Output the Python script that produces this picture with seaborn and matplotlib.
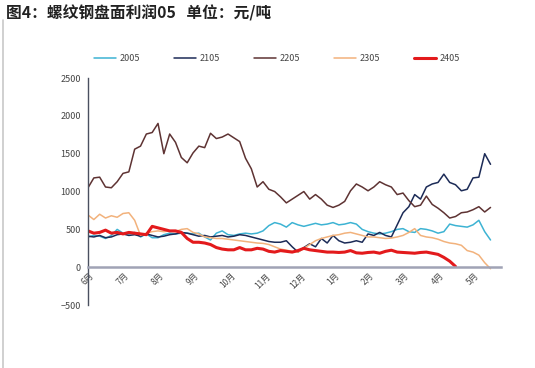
import numpy as np
import pandas as pd
import matplotlib
matplotlib.use("Agg")
import matplotlib.pyplot as plt
import seaborn as sns

# 月份刻度（6月 -> 次年5月）
months = ['6月', '7月', '8月', '9月', '10月', '11月', '12月', '1月', '2月', '3月', '4月', '5月']
step = 1 / 6  # 每个点约 1/6 个月

# 各合约盘面利润（元/吨）
p2005 = [400, 420, 410, 380, 420, 500, 450, 440, 460, 400, 440, 390, 390, 430, 450, 440, 450, 450,
         440, 450, 400, 360, 450, 480, 430, 420, 440, 450, 440, 450, 480, 550, 590, 570, 530, 590,
         560, 540, 560, 580, 560, 570, 590, 560, 570, 590, 570, 500, 470, 450, 440, 450, 470, 500,
         510, 470, 460, 510, 500, 480, 450, 470, 570, 550, 540, 530, 560, 620, 470, 360]
p2105 = [410, 400, 420, 390, 400, 430, 440, 420, 430, 410, 440, 420, 400, 410, 430, 440, 460, 450,
         430, 410, 420, 400, 410, 420, 400, 410, 430, 420, 400, 380, 360, 340, 330, 330, 350, 270,
         200, 260, 310, 270, 380, 320, 420, 350, 320, 330, 350, 330, 440, 420, 460, 420, 400, 560,
         720, 800, 960, 900, 1060, 1100, 1120, 1230, 1120, 1090, 1010, 1030, 1180, 1190, 1500, 1360]
p2205 = [1050, 1180, 1190, 1060, 1050, 1130, 1240, 1260, 1560, 1600, 1760, 1780, 1900, 1500, 1760,
         1650, 1450, 1380, 1510, 1600, 1580, 1770, 1700, 1720, 1760, 1710, 1660, 1440, 1300, 1060,
         1130, 1030, 1000, 930, 850, 900, 950, 1000, 900, 960, 900, 820, 790, 820, 870, 1010, 1100,
         1060, 1010, 1060, 1130, 1090, 1060, 960, 980, 880, 800, 820, 940, 830, 780, 720, 650, 670,
         720, 730, 760, 800, 730, 790]
p2305 = [690, 630, 700, 650, 680, 660, 710, 720, 620, 420, 450, 470, 480, 470, 480, 470, 500, 510,
         460, 440, 400, 390, 380, 380, 370, 360, 350, 340, 330, 320, 315, 300, 270, 240, 225, 210,
         200, 250, 300, 350, 380, 400, 420, 430, 450, 460, 440, 420, 400, 400, 390, 380, 385, 400,
         420, 460, 510, 420, 400, 390, 370, 340, 320, 310, 290, 220, 200, 160, 60, -20]
p2405 = [480, 450, 460, 490, 450, 460, 440, 460, 450, 440, 430, 540, 520, 500, 480, 480, 460, 380,
         330, 330, 320, 300, 260, 240, 230, 230, 260, 230, 230, 250, 240, 210, 200, 220, 210, 200,
         220, 250, 230, 220, 210, 200, 200, 195, 200, 220, 190, 185, 195, 200, 185, 210, 225, 200,
         195, 190, 185, 195, 200, 185, 170, 130, 80, 10]

series = [('2005', p2005, '#3DB3D3', 1.1),
          ('2105', p2105, '#1C2B57', 1.1),
          ('2205', p2205, '#5E3333', 1.1),
          ('2305', p2305, '#F2B27C', 1.1),
          ('2405', p2405, '#E31A1C', 2.2)]

sns.set_style("white")
plt.rcParams['font.family'] = ['Noto Sans CJK SC', 'DejaVu Sans']

fig = plt.figure(figsize=(5.35, 3.68), dpi=100)
ax = fig.add_axes([0.1645, 0.171, 0.772, 0.617])

for name, vals, col, lw in series:
    x = np.arange(len(vals)) * step
    sns.lineplot(x=x, y=vals, color=col, linewidth=lw, label=name, ax=ax)

ax.set_xlim(0, 11.8)
ax.set_ylim(-500, 2500)
ax.set_yticks(range(-500, 2501, 500))
ax.set_xticks(range(len(months)))
ax.tick_params(axis='y', labelsize=6.5, colors='#444444', direction='out', length=3, width=0.8, pad=2)
ax.tick_params(axis='x', direction='inout', length=4, width=0.8, color='#444444', pad=1,
               labelsize=6, labelcolor='#444444', labelrotation=45)
ax.set_xticklabels(months)
for lab in ax.get_xticklabels():
    lab.set_ha('right')
    lab.set_va('top')
    lab.set_rotation_mode('anchor')

for s in ['top', 'right']:
    ax.spines[s].set_visible(False)
ax.spines['left'].set_color('#4A5060')
ax.spines['left'].set_linewidth(1.0)
ax.spines['bottom'].set_position(('data', 0))
ax.spines['bottom'].set_color('#A0A3B5')
ax.spines['bottom'].set_linewidth(1.8)

ax.legend(loc='lower left', bbox_to_anchor=(-0.005, 1.03), ncol=5, frameon=False,
          fontsize=6.5, handlelength=2.4, columnspacing=3.8, handletextpad=0.4,
          labelcolor='#444444')

fig.text(0.012, 0.965, '图4：螺纹钢盘面利润05   单位：元/吨', fontsize=11.3,
         fontweight='bold', color='#222222', va='center', ha='left')
fig.add_artist(plt.Line2D([0.006, 0.006], [0.0, 0.945], color='#C8C8C8', linewidth=1.2))

fig.savefig('out.png', dpi=100)
